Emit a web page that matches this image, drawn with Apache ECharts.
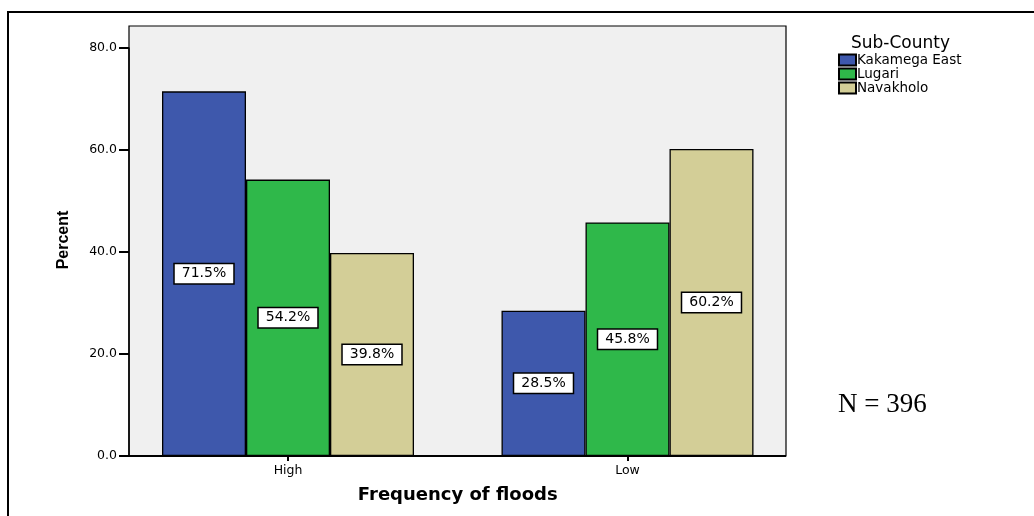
<!DOCTYPE html>
<html><head><meta charset="utf-8">
<script src="https://cdn.jsdelivr.net/npm/echarts@6/dist/echarts.min.js"></script>
<style>html,body{margin:0;padding:0;background:#fff;}#c{width:1034px;height:516px;}</style>
</head><body><div id="c"></div>
<script>
const categories = ['High', 'Low'];
const seriesNames = ['Kakamega East', 'Lugari', 'Navakholo'];
const kakamegaEast = [71.5, 28.5];
const lugari = [54.2, 45.8];
const navakholo = [39.8, 60.2];
const colors = ['#3e58ac', '#2fb84a', '#d3ce97'];
const yTicks = [0, 20, 40, 60, 80];

const chart = echarts.init(document.getElementById('c'));
const font = 'DejaVu Sans, Verdana, sans-serif';
const values = [kakamegaEast, lugari, navakholo];
chart.setOption({
  animation: false,
  textStyle: { fontFamily: font },
  title: { text: 'Sub-County', left: 846, top: 30, textStyle: { fontSize: 17, fontWeight: 'normal', color: '#000', fontFamily: font } },
  legend: {
    orient: 'vertical', left: 833, top: 48, itemWidth: 17, itemHeight: 11, itemGap: 0,
    icon: 'rect', textStyle: { fontSize: 13.5, color: '#000', padding: [0, 0, 0, -4] },
    data: seriesNames
  },
  grid: { left: 118.25, top: 48, width: 679, height: 408 },
  xAxis: {
    type: 'category', data: categories,
    axisLine: { show: false },
    axisTick: { show: true, alignWithLabel: true, length: 5, lineStyle: { color: '#000', width: 2 } },
    axisLabel: { fontSize: 12.5, color: '#000', margin: 8 },
    name: 'Frequency of floods', nameLocation: 'middle', nameGap: 30,
    nameTextStyle: { fontSize: 18, fontWeight: 'bold', color: '#000' }
  },
  yAxis: {
    type: 'value', min: 0, max: 80, interval: 20, offset: -10.75,
    axisLine: { show: true, lineStyle: { color: '#000', width: 1.5 } },
    axisTick: { show: true, length: 10, lineStyle: { color: '#000', width: 2 } },
    axisLabel: { fontSize: 12.5, color: '#000', margin: 12,
      formatter: v => yTicks.includes(v) ? v.toFixed(1) : '' },
    splitLine: { show: false },
    name: 'Percent', nameLocation: 'middle', nameGap: 57, nameRotate: 90,
    nameTextStyle: { fontSize: 16, fontWeight: 'bold', color: '#000', padding: [0, 0, 0, 24],
      fontFamily: 'Liberation Sans Narrow, Arial Narrow, sans-serif' }
  },
  graphic: [
    { type: 'rect', z: -10, shape: { x: 129, y: 26, width: 657, height: 430 }, style: { fill: '#f0f0f0', stroke: '#000', lineWidth: 1.2 } },
    { type: 'line', z: 10, shape: { x1: 129, y1: 456, x2: 786, y2: 456 }, style: { stroke: '#000', lineWidth: 2.2 } },
    { type: 'rect', z: 10, shape: { x: 8, y: 12, width: 1100, height: 600 }, style: { fill: 'none', stroke: '#000', lineWidth: 2 } },
    { type: 'text', z: 10, left: 838, top: 391, style: { text: 'N = 396', fontSize: 27, fontFamily: 'Liberation Serif, Times New Roman, serif', fill: '#000' } }
  ],
  series: seriesNames.map((n, i) => ({
    name: n, type: 'bar', data: values[i], barWidth: 84, barGap: '0%',
    itemStyle: { color: colors[i], borderColor: '#000', borderWidth: 1.3 },
    label: {
      show: true, position: 'inside', formatter: p => p.value.toFixed(1) + '%',
      fontSize: 14, color: '#000', backgroundColor: '#fff', borderColor: '#000', borderWidth: 1.5,
      padding: [3, 7, 2, 7]
    }
  }))
});
</script></body></html>
